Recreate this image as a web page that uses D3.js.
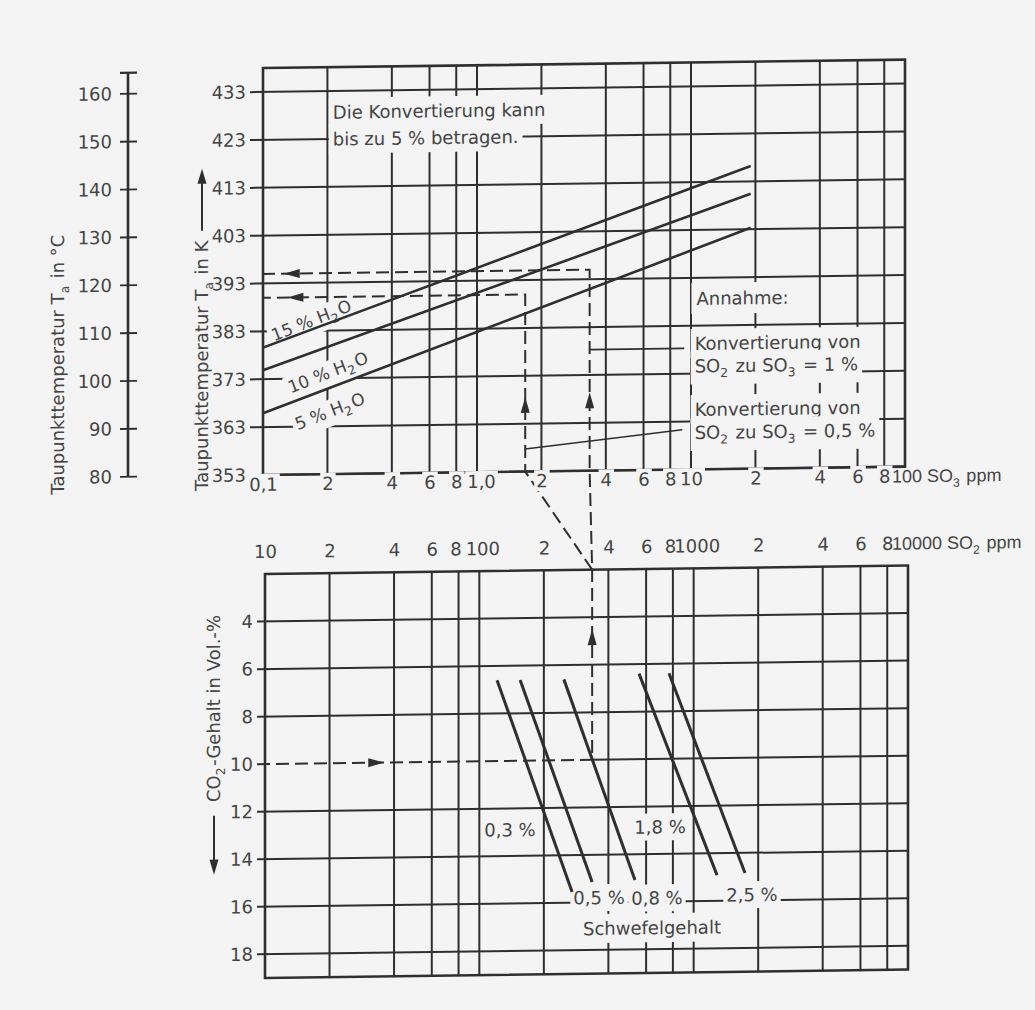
<!DOCTYPE html>
<html>
<head>
<meta charset="utf-8">
<script src="https://cdn.jsdelivr.net/npm/d3@7"></script>
<style>
  html, body { margin: 0; padding: 0; background: #f3f4f3; }
  svg { display: block; font-family: "DejaVu Sans", sans-serif; }
</style>
</head>
<body>
<svg id="chart" width="1035" height="1010"></svg>
<script>
// ---------- values ----------
const kelvinTicks = [353, 363, 373, 383, 393, 403, 413, 423, 433];
const celsiusTicks = [80, 90, 100, 110, 120, 130, 140, 150, 160];

const so3TickValues = [0.1, 0.2, 0.4, 0.6, 0.8, 1, 2, 4, 6, 8, 10, 20, 40, 60, 80];
const so3TickText   = ["0,1", "2", "4", "6", "8", "1,0", "2", "4", "6", "8", "10", "2", "4", "6", "8"];
const so3GridValues = [0.2, 0.4, 0.6, 0.8, 1, 2, 4, 6, 8, 10, 20, 40, 60, 80];

const so2TickValues = [10, 20, 40, 60, 80, 100, 200, 400, 600, 800, 1000, 2000, 4000, 6000, 8000];
const so2TickText   = ["10", "2", "4", "6", "8", "100", "2", "4", "6", "8", "1000", "2", "4", "6", "8"];
const so2GridValues = [20, 40, 60, 80, 100, 200, 400, 600, 800, 1000, 2000, 4000, 6000, 8000];

const co2Ticks = [4, 6, 8, 10, 12, 14, 16, 18];

// dew point lines, one per water vapour content (SO3 from 0.1 to 19 ppm)
const waterLabels   = ["15 %", "10 %", "5 %"];
const so3Span       = [0.1, 19];
const dewPointLow   = [379.6, 374.9, 365.9];
const dewPointHigh  = [416.2, 410.4, 403.3];

// sulphur content lines: SO2 ppm versus CO2 vol.-%
const sulfurLabels    = ["0,3 %", "0,5 %", "0,8 %", "1,8 %", "2,5 %"];
const sulfurSO2Start  = [121, 155, 248, 556, 767];
const sulfurCO2Start  = [6.6, 6.6, 6.6, 6.4, 6.4];
const sulfurSO2End    = [271, 336, 532, 1285, 1736];
const sulfurCO2End    = [15.55, 15.14, 15.08, 14.92, 14.85];

// worked example: 0,8 % sulphur, 10 % CO2
const exampleCO2 = 10;
const exampleSO2 = 336;
const conversionRates = [0.01, 0.005];
const exampleDewPoints = [395, 390];

// ---------- layout ----------
const W = 1035, H = 1010;
const BG = "#f3f4f3", INK = "#2f2f2f", TXT = "#454545";
const FONT = 18;
const skewDeg = 0.75;
const kSkew = Math.tan(skewDeg * Math.PI / 180);

const xTop = d3.scaleLog().domain([0.1, 100]).range([263, 905]);
const yTop = d3.scaleLinear().domain([353, 438]).range([475, 475 - 85 * 4.7875]);
const xBot = d3.scaleLog().domain([10, 10000]).range([265, 908]);
const yBot = d3.scaleLinear().domain([2, 19]).range([574, 978]);
const yC = d3.scaleLinear().domain([80, 164.4]).range([yTop(353), yTop(437.4)]);

const svg = d3.select("#chart");
svg.append("rect").attr("width", W).attr("height", H).attr("fill", BG);

const root = svg.append("g")
  .attr("transform", `translate(0,${(263 * kSkew).toFixed(3)}) skewY(${-skewDeg})`);

const gGrid = root.append("g").attr("stroke", INK).attr("fill", "none");
const gNote = root.append("g");
const gMarks = root.append("g").attr("fill", "none");
const gTicks = root.append("g");

// ---------- helpers ----------
function rich(textSel, parts) {
  parts.forEach(p => {
    if (typeof p === "string") textSel.append("tspan").text(p);
    else {
      textSel.append("tspan").attr("dy", 5).attr("font-size", FONT * 0.68).text(p.sub);
      textSel.append("tspan").attr("dy", -5).text("\u200A");
    }
  });
  return textSel;
}
function backdrop(parent, textSel, padX, padY) {
  const node = textSel.node();
  const b = node.getBBox();
  parent.insert("rect", () => node)
    .attr("x", b.x - padX).attr("y", b.y - padY)
    .attr("width", b.width + 2 * padX).attr("height", b.height + 2 * padY)
    .attr("fill", BG);
}
function arrowHead(parent, x, y, angleDeg, len = 16, half = 4.5) {
  parent.append("path")
    .attr("d", `M0,0 L${-len},${-half} L${-len},${half} Z`)
    .attr("transform", `translate(${x},${y}) rotate(${angleDeg})`)
    .attr("fill", INK).attr("stroke", "none");
}

// ---------- upper panel grid ----------
kelvinTicks.forEach(t => {
  gGrid.append("line")
    .attr("x1", 250).attr("x2", xTop(100))
    .attr("y1", yTop(t)).attr("y2", yTop(t))
    .attr("stroke-width", 2);
});
so3GridValues.forEach(v => {
  gGrid.append("line")
    .attr("x1", xTop(v)).attr("x2", xTop(v))
    .attr("y1", yTop(353)).attr("y2", yTop(438))
    .attr("stroke-width", 2);
});
gGrid.append("rect")
  .attr("x", xTop(0.1)).attr("y", yTop(438))
  .attr("width", xTop(100) - xTop(0.1)).attr("height", yTop(353) - yTop(438))
  .attr("stroke-width", 2.6);

// ---------- lower panel grid ----------
co2Ticks.forEach(c => {
  gGrid.append("line")
    .attr("x1", c === exampleCO2 ? xBot(exampleSO2) : 257).attr("x2", xBot(10000))
    .attr("y1", yBot(c)).attr("y2", yBot(c))
    .attr("stroke-width", 2);
});
so2GridValues.forEach(v => {
  gGrid.append("line")
    .attr("x1", xBot(v)).attr("x2", xBot(v))
    .attr("y1", yBot(2)).attr("y2", yBot(19))
    .attr("stroke-width", 2);
});
gGrid.append("rect")
  .attr("x", xBot(10)).attr("y", yBot(2))
  .attr("width", xBot(10000) - xBot(10)).attr("height", yBot(19) - yBot(2))
  .attr("stroke-width", 2.6);

// ---------- Celsius scale ----------
const gC = gGrid.append("g");
gC.append("line").attr("x1", 128).attr("x2", 128)
  .attr("y1", yC(80)).attr("y2", yC(164.4)).attr("stroke-width", 2.6);
gC.append("line").attr("x1", 120).attr("x2", 137)
  .attr("y1", yC(164.4)).attr("y2", yC(164.4)).attr("stroke-width", 2.2);
celsiusTicks.forEach(c => {
  gC.append("line").attr("x1", 120).attr("x2", 137)
    .attr("y1", yC(c)).attr("y2", yC(c)).attr("stroke-width", 1.8);
});

// ---------- annotations (with paper backdrop) ----------
function note(x, y, parts, anchor = "start", pad = [4, 2]) {
  const t = gNote.append("text")
    .attr("x", x).attr("y", y).attr("dy", "0.36em")
    .attr("text-anchor", anchor)
    .attr("fill", TXT).attr("font-size", FONT);
  rich(t, parts);
  backdrop(gNote, t, pad[0], pad[1]);
  return t;
}
note(xTop(0.212), yTop(428.6), ["Die Konvertierung kann"], "start", [4, 4]);
note(xTop(0.212), yTop(423.0), ["bis zu 5 % betragen."], "start", [4, 4]);
note(xTop(10.6), yTop(388.7), ["Annahme:"], "start", [5, 5]);
note(xTop(10.4), yTop(379.3), ["Konvertierung von"], "start", [4, 4]);
note(xTop(10.4), yTop(374.6), ["SO", {sub: "2"}, " zu SO", {sub: "3"}, " = 1 %"], "start", [4, 4]);
note(xTop(10.4), yTop(365.5), ["Konvertierung von"], "start", [4, 4]);
note(xTop(10.4), yTop(360.7), ["SO", {sub: "2"}, " zu SO", {sub: "3"}, " = 0,5 %"], "start", [4, 4]);

// water vapour labels, tilted along their lines
const waterLabelPos = [[0.168, 385.2], [0.201, 374.3], [0.205, 366.2]];
waterLabels.forEach((lab, i) => {
  const gg = gNote.append("g")
    .attr("transform", `translate(${xTop(waterLabelPos[i][0])},${yTop(waterLabelPos[i][1])}) rotate(-21)`);
  const t = gg.append("text").attr("text-anchor", "middle").attr("dy", "0.36em")
    .attr("fill", TXT).attr("font-size", 17);
  rich(t, [lab + " H", {sub: "2"}, "O"]);
  backdrop(gg, t, 3, 1);
});

// sulphur labels
const sulfurLabelPos = [[139, 12.9], [362, 15.8], [674, 15.85], [697, 12.86], [1871, 15.76]];
sulfurLabels.forEach((lab, i) => {
  note(xBot(sulfurLabelPos[i][0]), yBot(sulfurLabelPos[i][1]), [lab], "middle", [3, 3]);
});
note(xBot(639), yBot(17.1), ["Schwefelgehalt"], "middle", [4, 4]);

// ---------- dew point lines ----------
const lineTop = d3.line().x(d => xTop(d[0])).y(d => yTop(d[1]));
waterLabels.forEach((lab, i) => {
  gMarks.append("path")
    .attr("d", lineTop([[so3Span[0], dewPointLow[i]], [so3Span[1], dewPointHigh[i]]]))
    .attr("stroke", INK).attr("stroke-width", 2.6);
});

// ---------- sulphur lines ----------
const lineBot = d3.line().x(d => xBot(d[0])).y(d => yBot(d[1]));
sulfurLabels.forEach((lab, i) => {
  gMarks.append("path")
    .attr("d", lineBot([[sulfurSO2Start[i], sulfurCO2Start[i]], [sulfurSO2End[i], sulfurCO2End[i]]]))
    .attr("stroke", INK).attr("stroke-width", 3);
});

// ---------- worked example (dashed reading paths) ----------
const so3At1 = exampleSO2 * conversionRates[0];
const so3At05 = exampleSO2 * conversionRates[1];
const dash = "13,6";

const pathMain = d3.path();
pathMain.moveTo(257, yBot(exampleCO2));
pathMain.lineTo(xBot(exampleSO2), yBot(exampleCO2));
pathMain.lineTo(xBot(exampleSO2), yBot(2));
pathMain.lineTo(xTop(so3At1), yTop(353));
pathMain.lineTo(xTop(so3At1), yTop(exampleDewPoints[0]));
pathMain.lineTo(xTop(0.1), yTop(exampleDewPoints[0]));
gMarks.append("path").attr("d", pathMain.toString())
  .attr("stroke", INK).attr("stroke-width", 2).attr("stroke-dasharray", dash);

const pathHalf = d3.path();
pathHalf.moveTo(xBot(exampleSO2), yBot(2));
pathHalf.lineTo(xTop(so3At05), yTop(353));
pathHalf.lineTo(xTop(so3At05), yTop(exampleDewPoints[1]));
pathHalf.lineTo(xTop(0.1), yTop(exampleDewPoints[1]));
gMarks.append("path").attr("d", pathHalf.toString())
  .attr("stroke", INK).attr("stroke-width", 2).attr("stroke-dasharray", dash);

// arrows along the reading paths
arrowHead(gMarks, xBot(36), yBot(exampleCO2), 0);
arrowHead(gMarks, xBot(exampleSO2), yBot(4.5), -90);
arrowHead(gMarks, xTop(so3At1), yTop(369.4), -90);
arrowHead(gMarks, xTop(so3At05), yTop(368.6), -90);
arrowHead(gMarks, xTop(0.125), yTop(exampleDewPoints[0]), 180);
arrowHead(gMarks, xTop(0.13), yTop(exampleDewPoints[1]), 180);

// leader lines to the assumption notes
gMarks.append("line")
  .attr("x1", xTop(so3At1)).attr("y1", yTop(378.3))
  .attr("x2", xTop(9.3)).attr("y2", yTop(378.3))
  .attr("stroke", INK).attr("stroke-width", 1.6);
gMarks.append("line")
  .attr("x1", xTop(so3At05)).attr("y1", yTop(357.7))
  .attr("x2", xTop(9.1)).attr("y2", yTop(361.3))
  .attr("stroke", INK).attr("stroke-width", 1.6);

// ---------- axes ----------
function styleAxis(sel) {
  sel.select(".domain").remove();
  sel.selectAll(".tick line").remove();
  sel.selectAll("text").attr("fill", TXT).attr("font-size", FONT)
    .attr("font-family", "DejaVu Sans, sans-serif");
}

// Kelvin
gTicks.append("g").attr("transform", "translate(250,0)")
  .call(d3.axisLeft(yTop).tickValues(kelvinTicks).tickFormat(d3.format("d")).tickSize(0).tickPadding(4))
  .call(styleAxis);

// Celsius
gTicks.append("g").attr("transform", "translate(128,0)")
  .call(d3.axisLeft(yC).tickValues(celsiusTicks).tickFormat(d3.format("d")).tickSize(0).tickPadding(16))
  .call(styleAxis);

// SO3 ppm
const axSO3 = gTicks.append("g").attr("transform", `translate(0,${yTop(353)})`)
  .call(d3.axisBottom(xTop).tickValues(so3TickValues)
    .tickFormat((d, i) => so3TickText[i]).tickSize(0).tickPadding(3))
  .call(styleAxis);
axSO3.selectAll(".tick text").attr("dx", (d, i) => so3TickText[i] === "1,0" ? 4 : 0);
axSO3.selectAll(".tick").each(function () {
  const t = d3.select(this).select("text");
  backdrop(d3.select(this), t, 2, 0);
});
{
  const t = axSO3.append("text").attr("x", xTop(100) - 13).attr("y", 3).attr("dy", "0.71em")
    .attr("text-anchor", "start").attr("fill", TXT).attr("font-size", FONT);
  rich(t, ["100 SO", {sub: "3"}, " ppm"]);
}

// SO2 ppm
const axSO2 = gTicks.append("g").attr("transform", `translate(0,${yBot(2)})`)
  .call(d3.axisTop(xBot).tickValues(so2TickValues)
    .tickFormat((d, i) => so2TickText[i]).tickSize(0).tickPadding(16))
  .call(styleAxis);
axSO2.selectAll(".tick text").attr("dx", (d, i) => {
  const v = so2TickValues[i];
  if (v === 100 || v === 1000) return 3;
  if (v === 80 || v === 800) return -3;
  return 0;
});
{
  const t = axSO2.append("text").attr("x", xBot(10000) - 16).attr("y", -16)
    .attr("text-anchor", "start").attr("fill", TXT).attr("font-size", FONT);
  rich(t, ["10000 SO", {sub: "2"}, " ppm"]);
}

// CO2 vol.-%
gTicks.append("g").attr("transform", "translate(257,0)")
  .call(d3.axisLeft(yBot).tickValues(co2Ticks).tickFormat(d3.format("d")).tickSize(0).tickPadding(4))
  .call(styleAxis);

// ---------- axis titles ----------
function vTitle(x, y, parts) {
  const t = gTicks.append("text")
    .attr("transform", `translate(${x},${y}) rotate(-90)`)
    .attr("text-anchor", "middle").attr("dy", "0.36em")
    .attr("fill", TXT).attr("font-size", FONT);
  rich(t, parts);
  return t;
}
vTitle(58, 362, ["Taupunkttemperatur T", {sub: "a"}, " in °C"]);
vTitle(202, 365, ["Taupunkttemperatur T", {sub: "a"}, " in K"]);
vTitle(214, 708, ["CO", {sub: "2"}, "-Gehalt in Vol.-%"]);

// direction arrows next to the titles
gTicks.append("line").attr("x1", 202).attr("x2", 202).attr("y1", 230).attr("y2", 182)
  .attr("stroke", INK).attr("stroke-width", 2);
arrowHead(gTicks, 202, 168, -90, 15, 4.5);
gTicks.append("line").attr("x1", 214).attr("x2", 214).attr("y1", 815).attr("y2", 860)
  .attr("stroke", INK).attr("stroke-width", 2);
arrowHead(gTicks, 214, 874, 90, 15, 4.5);
</script>
</body>
</html>
